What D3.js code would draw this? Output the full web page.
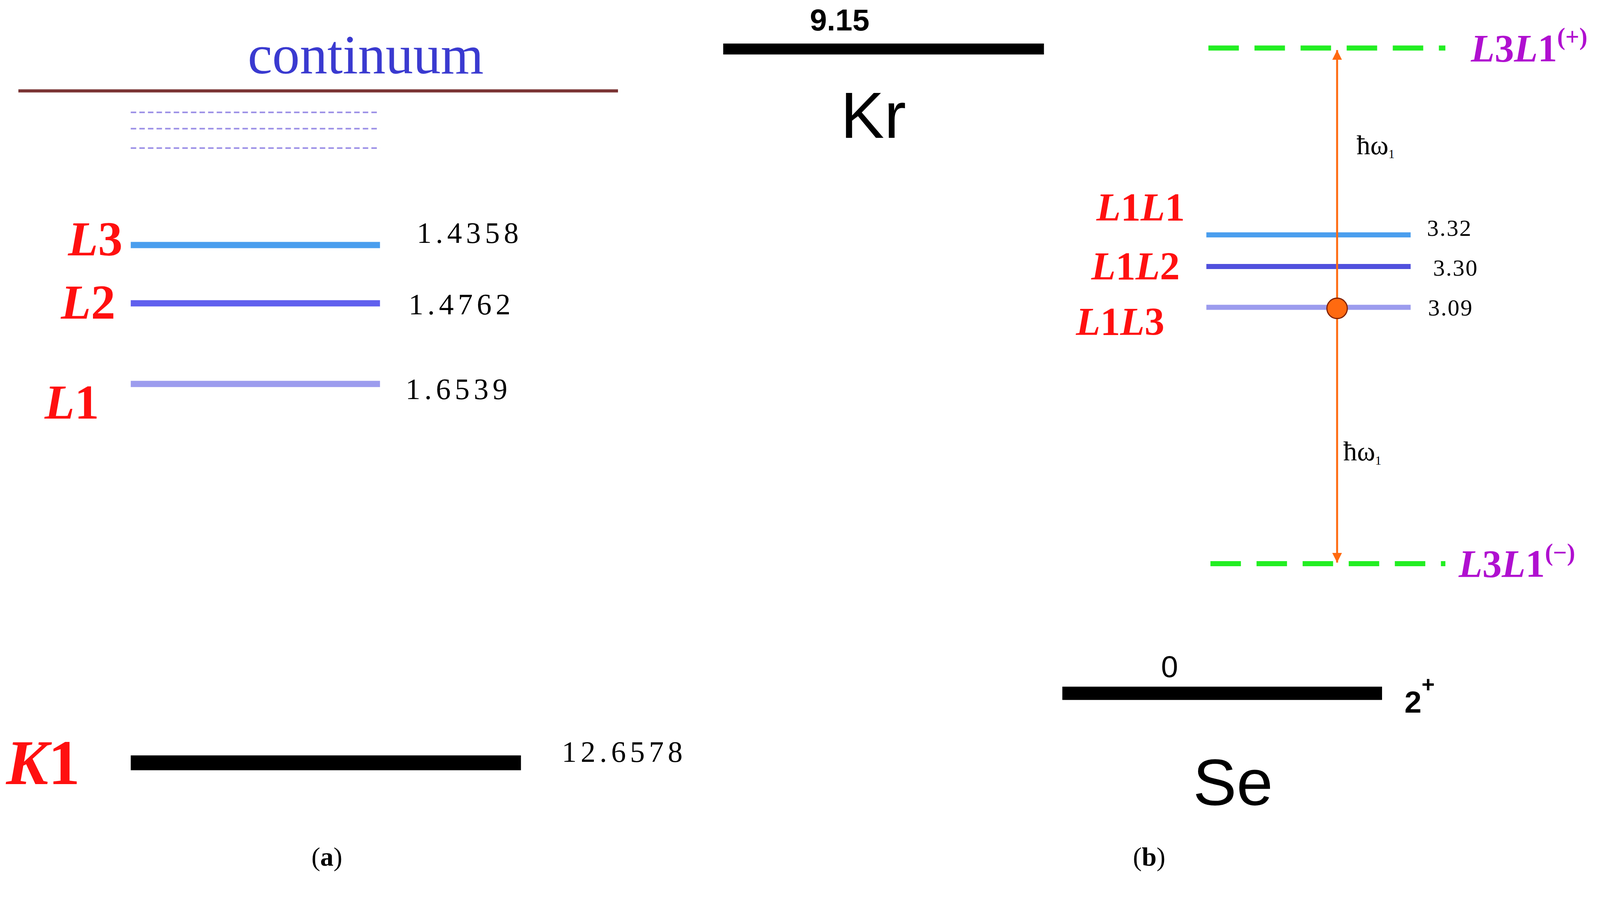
<!DOCTYPE html>
<html><head><meta charset="utf-8">
<script src="https://cdn.jsdelivr.net/npm/d3@7"></script>
<style>body{margin:0;background:#fff}svg{display:block}</style>
</head><body><svg id="c" width="4265" height="2333"></svg>
<script>
// Data
const shellNames = ["L3","L2","L1"];
const shellValues = ["1.4358","1.4762","1.6539"];
const kName = "K1", kValue = "12.6578";
const pairNames = ["L1L1","L1L2","L1L3"];
const pairValues = ["3.32","3.30","3.09"];
const krValue = "9.15", seValue = "0";

const W=4265,H=2333;
const sx=d3.scaleLinear().domain([0,1631]).range([0,W]);
const svg=d3.select("#c");
const serif="'Liberation Serif','Times New Roman',serif", sans="'Liberation Sans',Arial,sans-serif";
function line(x1,x2,y,c,w,dash){svg.append("line").attr("x1",sx(x1)).attr("x2",sx(x2)).attr("y1",sx(y)).attr("y2",sx(y)).attr("stroke",c).attr("stroke-width",w).attr("stroke-dasharray",dash||null);}
function text(x,y,t,o){const e=svg.append("text").attr("x",sx(x)).attr("y",sx(y)).attr("font-family",o.f||serif).attr("font-size",sx(o.s)).attr("fill",o.c||"#000").attr("text-anchor",o.a||"start").attr("font-weight",o.b?"bold":"normal").attr("font-style",o.i?"italic":"normal").attr("letter-spacing",o.ls||0);e.text(t);return e;}
function italicLabel(x,y,t,o){
  const e=svg.append("text").attr("x",sx(x)).attr("y",sx(y)).attr("font-family",serif).attr("font-size",sx(o.s)).attr("fill",o.c).attr("font-weight","bold").attr("text-anchor",o.a||"start");
  t.split(/(\d+)/).filter(s=>s).forEach(p=>e.append("tspan").attr("font-style",/\d/.test(p)?"normal":"italic").text(p));
  return e;}

// (a)
text(358,72,"continuum",{s:54,c:"#3a3ad0",a:"middle"});
line(18,605,89,"#7a3434",8);
[110,126,145].forEach(y=>line(128,372,y,"#9a8ee6",4,"14 8"));
const shellY=[240,297,376], shellC=["#4a9eee","#6060ee","#9c9cee"];
const shellLabY=[250,312,410], shellLabX=[120,113,97], shellValX=[408,400,397], shellValY=[238,308,391];
shellNames.forEach((n,i)=>{
  line(128,372,shellY[i],shellC[i],16);
  italicLabel(shellLabX[i],shellLabY[i],n,{s:48,c:"#ff1010",a:"end"});
  text(shellValX[i],shellValY[i],shellValues[i],{s:29,ls:sx(4)});
});
line(128,510,747,"#000",38);
italicLabel(6,768,kName,{s:62,c:"#ff1010"});
text(550,746,kValue,{s:29,ls:sx(4)});
const a=svg.append("text").attr("x",sx(320)).attr("y",sx(848)).attr("font-family",serif).attr("font-size",sx(26)).attr("text-anchor","middle");
a.append("tspan").text("(");a.append("tspan").attr("font-weight","bold").text("a");a.append("tspan").text(")");

// Kr
line(708,1022,48,"#000",28);
text(822,30,krValue,{s:30,f:sans,b:true,a:"middle"});
text(855,135,"Kr",{s:64,f:sans,a:"middle"});

// (b)
line(1183,1415,47,"#22ee22",13,"78 40");
line(1185,1415,552,"#22ee22",13,"78 40");
function l3l1(x,y,sign){const e=italicLabel(x,y,"L3L1",{s:38,c:"#b010d0"});
  e.append("tspan").attr("dy",-sx(16)).attr("font-size",sx(24)).attr("font-style","normal").text("("+sign+")");}
l3l1(1440,60,"+");l3l1(1428,565,"\u2212");
const pairY=[230,261,301], pairC=["#4a9eee","#5050dd","#9c9cee"];
const pairLX=[1160,1155,1140], pairLY=[216,274,328], pairVX=[1397,1403,1398], pairVY=[231,270,309];
pairNames.forEach((n,i)=>{
  line(1181,1381,pairY[i],pairC[i],13);
  italicLabel(pairLX[i],pairLY[i],n,{s:39,c:"#ff1010",a:"end"});
  text(pairVX[i],pairVY[i],pairValues[i],{s:23,ls:sx(1)});
});
const defs=svg.append("defs");
defs.append("marker").attr("id","ar").attr("viewBox","0 0 10 10").attr("refX",10).attr("refY",5).attr("markerWidth",5).attr("markerHeight",5).attr("orient","auto-start-reverse")
  .append("path").attr("d","M0,0L10,5L0,10z").attr("fill","#ff6a10");
svg.append("line").attr("x1",sx(1309)).attr("x2",sx(1309)).attr("y1",sx(49)).attr("y2",sx(551)).attr("stroke","#ff6a10").attr("stroke-width",5)
  .attr("marker-start","url(#ar)").attr("marker-end","url(#ar)");
svg.append("circle").attr("cx",sx(1309)).attr("cy",sx(302)).attr("r",sx(10)).attr("fill","#ff6a10").attr("stroke","#802000").attr("stroke-width",3);
function hw(x,y){const e=text(x,y,"\u0127\u03c9",{s:27});e.append("tspan").attr("font-size",sx(12)).attr("dy",sx(4)).text("1");}
hw(1328,151);hw(1315,451);

// Se
line(1040,1353,679,"#000",34);
text(1145,663,seValue,{s:30,f:sans,a:"middle"});
const two=text(1375,698,"2",{s:30,f:sans,b:true});two.append("tspan").attr("dy",-sx(20)).attr("font-size",sx(22)).text("+");
text(1207,788,"Se",{s:64,f:sans,a:"middle"});
const b=svg.append("text").attr("x",sx(1125)).attr("y",sx(848)).attr("font-family",serif).attr("font-size",sx(26)).attr("text-anchor","middle");
b.append("tspan").text("(");b.append("tspan").attr("font-weight","bold").text("b");b.append("tspan").text(")");
</script></body></html>
